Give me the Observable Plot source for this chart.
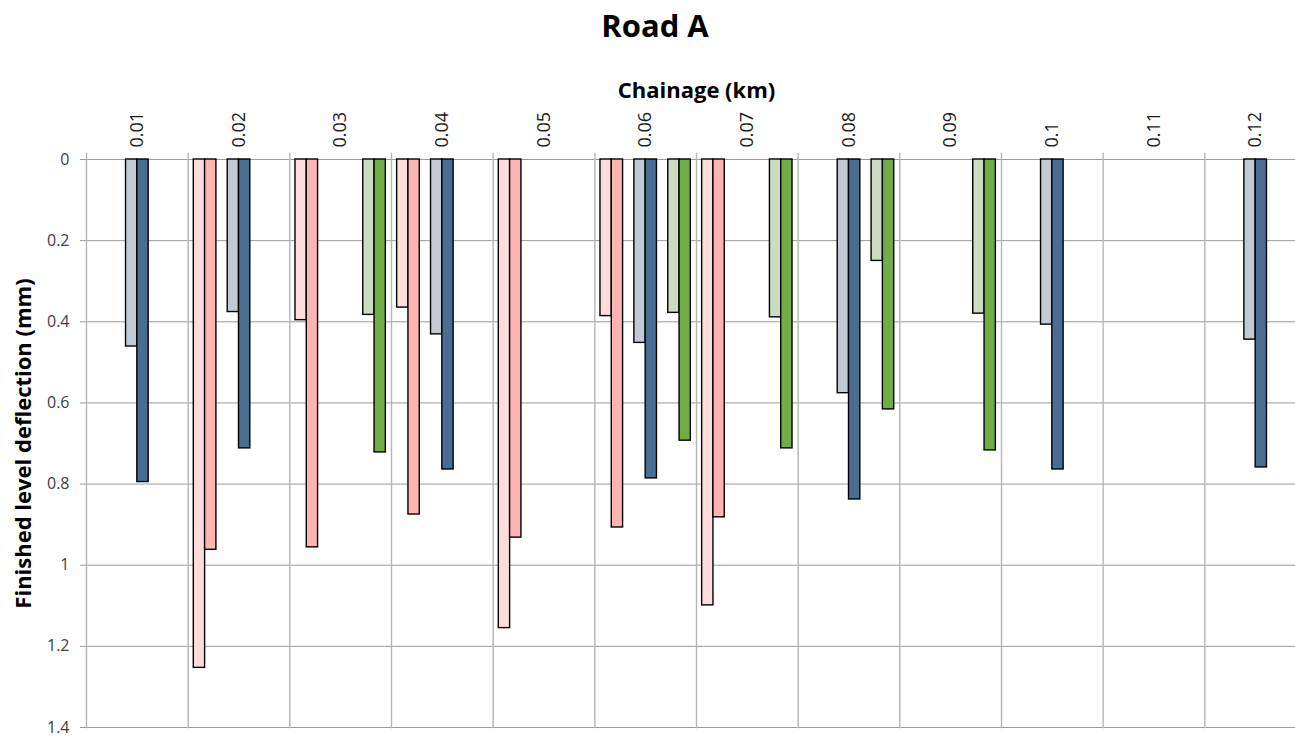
<!DOCTYPE html>
<html>
<head>
<meta charset="utf-8">
<script src="https://cdn.jsdelivr.net/npm/d3@7"></script>
<script src="https://cdn.jsdelivr.net/npm/@observablehq/plot@0.6"></script>
<style>
  html, body { margin: 0; padding: 0; background: #fff; overflow: hidden; }
  #chart { width: 1310px; font-family: "Open Sans", sans-serif; }
  #title { height: 50px; line-height: 50px; text-align: center; font-weight: 700; font-size: 31px; color: #000; }
  #chart svg g[aria-label="fx-axis label"] text { font-size: 22px; font-weight: 700; fill: #000; }
  #chart svg g[aria-label="y-axis label"] text { font-size: 22px; font-weight: 700; fill: #000; }
</style>
</head>
<body>
<div id="chart"><div id="title">Road A</div></div>
<script>
// Chainage stations (km), one category each
const chainage = ["0.01", "0.02", "0.03", "0.04", "0.05", "0.06", "0.07", "0.08", "0.09", "0.1", "0.11", "0.12"];

// Bar slots inside each station: three pairs, with an empty slot between pairs
const seriesKeys = ["A1", "A2", "gapAB", "B1", "B2", "gapBC", "C1", "C2"];

// Finished level deflection (mm) per series; null = not measured
const a1 = [null, 1.253, 0.396, 0.365, 1.155, 0.386, 1.099, null, null, null, null, null];
const a2 = [null, 0.962, 0.956, 0.875, 0.932, 0.907, 0.882, null, null, null, null, null];
const b1 = [0.461, 0.376, null, 0.431, null, 0.452, null, 0.576, null, 0.407, null, 0.444];
const b2 = [0.795, 0.712, null, 0.764, null, 0.786, null, 0.838, null, 0.764, null, 0.759];
const c1 = [null, null, 0.383, null, null, 0.378, 0.389, 0.250, 0.380, null, null, null];
const c2 = [null, null, 0.722, null, null, 0.693, 0.712, 0.616, 0.717, null, null, null];

const yTicks = [0, 0.2, 0.4, 0.6, 0.8, 1.0, 1.2, 1.4];

const seriesNames = ["A1", "A2", "B1", "B2", "C1", "C2"];
const seriesColors = ["#ffdcdc", "#ffb4b4", "#c1cad4", "#4a6e93", "#cbdcc2", "#70ad47"];

// Long-format table for the bar mark
const bySeries = { A1: a1, A2: a2, B1: b1, B2: b2, C1: c1, C2: c2 };
const rows = [];
for (const [series, values] of Object.entries(bySeries)) {
  values.forEach((v, i) => {
    if (v != null) rows.push({ chainage: chainage[i], series, value: v });
  });
}

// Horizontal gridlines repeated in every station, so stations without bars still get a panel
const gridRows = chainage.flatMap(c => yTicks.map(t => ({ chainage: c, tick: t })));

const chart = Plot.plot({
  width: 1310,
  height: 687,
  marginTop: 109,
  marginBottom: 10,
  marginLeft: 86,
  marginRight: 4,
  style: { fontFamily: "Open Sans, sans-serif", background: "#fff", overflow: "visible" },
  fx: { domain: chainage, padding: 0, round: false },
  x: { domain: seriesKeys, paddingInner: 0, paddingOuter: 0.5, round: false, axis: null },
  y: { domain: [0, 1.4], reverse: true },
  color: { domain: seriesNames, range: seriesColors },
  marks: [
    Plot.ruleY(gridRows, { fx: "chainage", y: "tick", stroke: "#9a9a9a", strokeWidth: 1 }),
    Plot.frame({ anchor: "left", stroke: "#b5b5b5", strokeWidth: 1.4, insetTop: -6 }),
    Plot.barY(rows, {
      fx: "chainage",
      x: "series",
      y1: 0,
      y2: "value",
      fill: "series",
      stroke: "#000",
      strokeWidth: 1.4
    }),
    Plot.axisFx({
      anchor: "top",
      tickRotate: -90,
      tickSize: 0,
      tickPadding: 12,
      fontSize: 18,
      fill: "#1a1a1a",
      label: "Chainage (km)",
      labelAnchor: "center",
      labelOffset: 77
    }),
    Plot.axisY(yTicks, {
      anchor: "left",
      facetAnchor: "left",
      tickSize: 6,
      tickPadding: 11,
      stroke: "#9a9a9a",
      fill: "#404040",
      fontSize: 16,
      tickFormat: d => String(+d.toFixed(1)),
      label: "Finished level deflection (mm)",
      labelArrow: "none",
      labelAnchor: "center",
      labelOffset: 71
    })
  ]
});

document.getElementById("chart").appendChild(chart);
</script>
</body>
</html>
